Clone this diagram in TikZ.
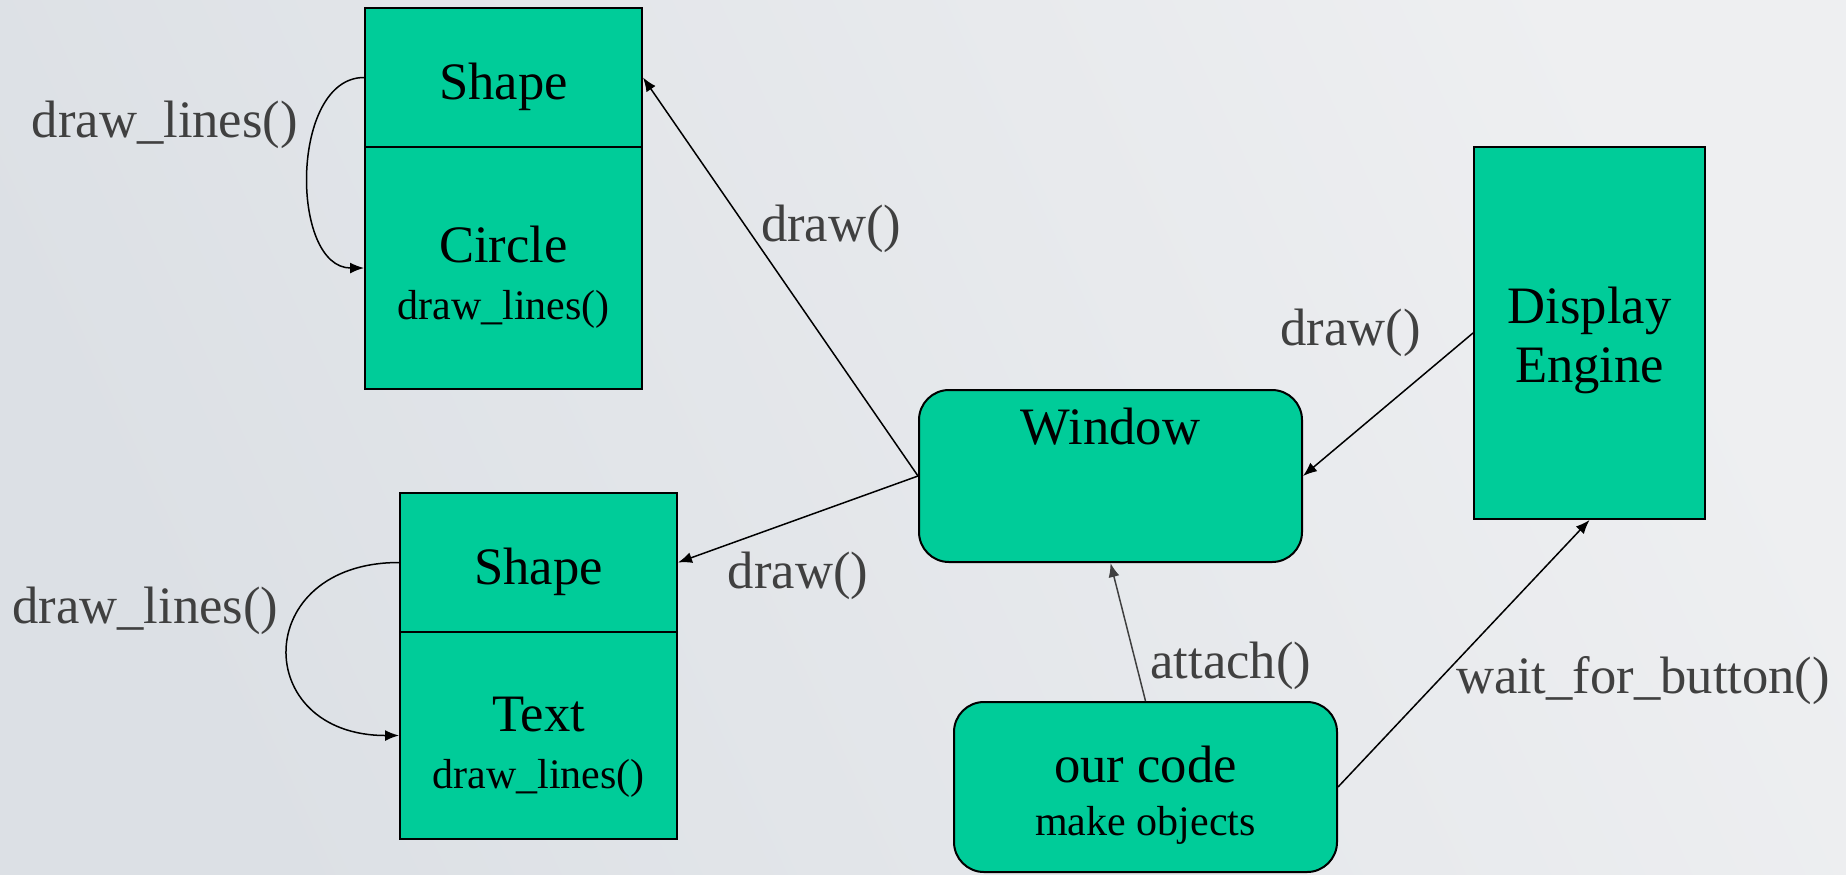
\documentclass[tikz,border=0pt]{standalone}
\usepackage{fontspec}
\setmainfont{Liberation Serif}
\usetikzlibrary{arrows.meta}

\definecolor{boxgreen}{HTML}{00CC99}
\definecolor{labelgrey}{HTML}{404040}
\definecolor{bgdark}{HTML}{DCE0E5}
\definecolor{bglight}{HTML}{EEEFF1}

\newcommand\bigtxt{\fontsize{26.3}{29.5}\selectfont}
\newcommand\smalltxt{\fontsize{21}{25}\selectfont}
\newcommand\lift[1]{\rule{0pt}{#1}}

\begin{document}
\begin{tikzpicture}[x=0.5pt, y=-0.5pt, font=\bigtxt,
    part/.style={draw, fill=boxgreen, line width=1pt, minimum width=138.5pt, align=center, inner sep=0pt},
    rbox/.style={draw, fill=boxgreen, line width=1pt, rounded corners=15pt, minimum width=191.5pt, align=center},
    flow/.style={-{Latex[length=7pt,width=5.5pt]}, line width=0.75pt},
    lbl/.style={text=labelgrey}]
  \shade[left color=bgdark, right color=bglight, shading angle=115] (0,0) rectangle (1846,874);
  \useasboundingbox (0,0) rectangle (1846,874);

  % classes
  \node[part, minimum height=69.5pt] (shapeA) at (503.5,77.5) {\lift{27.5pt}Shape};
  \node[part, minimum height=121pt] (circ) at (503.5,268) {\lift{27pt}Circle\\[-1pt]{\smalltxt draw\_lines()}};
  \node[part, minimum height=69.5pt] (shapeB) at (538.5,562.5) {\lift{27.5pt}Shape};
  \node[part, minimum height=103.5pt] (textB) at (538.5,735.5) {\lift{29pt}Text\\[-1pt]{\smalltxt draw\_lines()}};

  \node[rbox, minimum height=86pt, label={[name=wintitle, anchor=north, yshift=-6pt]north:Window}] (win) at (1110.5,476) {};
  \node[part, minimum width=115.5pt, minimum height=186pt] (disp) at (1589.5,333) {\lift{26pt}Display\\Engine};
  \node[rbox, minimum height=85pt] (code) at (1145.5,787) {\lift{26pt}our code\\[-3pt]{\smalltxt make objects}};

  % calls
  \draw[flow] (shapeA.west) to[out=180, in=180] node[lbl, pos=0.3, anchor=east, xshift=-6pt, yshift=-3pt] (dlA) {draw\_lines()} (circ.west);
  \draw[flow] (shapeB.west) to[out=180, in=180, looseness=2.2] node[lbl, pos=0.35, anchor=east, xshift=-6pt] (dlB) {draw\_lines()} (textB.west);
  \draw[flow] (win.west) -- node[lbl, pos=0.63, anchor=west, xshift=4.5pt, yshift=-2pt] (drA) {draw()} (shapeA.east);
  \draw[flow] (win.west) -- node[lbl, pos=0.5, anchor=north, yshift=-12.5pt] (drB) {draw()} (shapeB.east);
  \draw[flow] (disp.west) -- node[lbl, pos=0, anchor=east, xshift=-22.5pt] (drC) {draw()} (win.east);
  \draw[flow, draw=labelgrey] (code.north) -- node[lbl, pos=0.3, anchor=west, xshift=4pt, yshift=-3pt] (att) {attach()} (win.south);
  \draw[flow] (code.east) -- node[lbl, pos=0.4, anchor=west, xshift=5pt] (wfb) {wait\_for\_button()} (disp.south);
\end{tikzpicture}
\end{document}
